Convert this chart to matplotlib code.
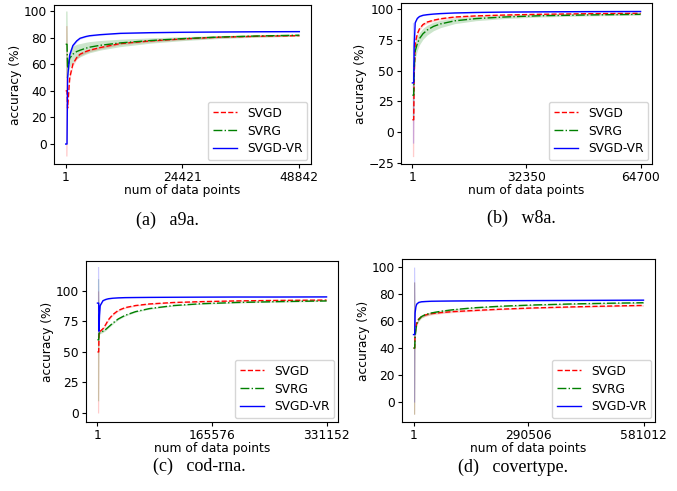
import matplotlib
matplotlib.use('Agg')
import matplotlib.pyplot as plt
import numpy as np

# ---- data (mean accuracy and its spread) ----
# (a) a9a
a9a_n = 48842
a9a_x = [1, 280, 400, 850, 1500, 2300, 3000, 4200, 5000, 7200, 11400, 17700, 24400, 32000, 40000, 48842]
a9a_svgd = [40, 40, 27, 50, 60, 65, 67.5, 69.5, 70.5, 72.5, 75.5, 77.5, 79, 80.3, 81, 81.5]
a9a_svgd_std = [49, 49, 2, 1.8, 1.5, 1.3, 1.2, 1.1, 1, 1, 0.9, 0.8, 0.7, 0.6, 0.5, 0.5]
a9a_svrg = [75, 75, 57, 64.5, 67.5, 69.5, 70.5, 72, 72.8, 74.2, 76, 77.8, 79.2, 80.4, 81.2, 81.8]
a9a_svrg_std = [25, 25, 8, 6.5, 6, 5.5, 5, 4.5, 4.2, 3.6, 2.8, 2, 1.5, 1.1, 0.9, 0.8]
a9a_vr = [0, 0, 50, 67, 74, 77.5, 79.5, 80.8, 81.4, 82.2, 83.2, 83.7, 84, 84.2, 84.4, 84.5]
a9a_vr_std = [0, 0, 2, 1.5, 1, 0.8, 0.6, 0.5, 0.5, 0.4, 0.4, 0.3, 0.3, 0.3, 0.3, 0.3]

# (b) w8a
w8a_n = 64700
w8a_x = [1, 370, 500, 800, 1400, 2000, 3000, 4200, 6000, 8000, 12000, 18000, 26000, 36000, 50000, 64700]
w8a_svgd = [10, 10, 45, 72, 80, 84, 87.5, 89.5, 91, 92.2, 93.6, 94.5, 95.2, 95.8, 96.3, 96.6]
w8a_svgd_std = [30, 30, 2, 1.5, 1.3, 1.2, 1, 1, 0.9, 0.8, 0.7, 0.6, 0.5, 0.5, 0.4, 0.4]
w8a_svrg = [30, 30, 52, 66, 72, 76, 80, 83, 86, 88, 90.5, 92.3, 93.6, 94.6, 95.3, 95.8]
w8a_svrg_std = [20, 20, 8, 6, 5.5, 5, 4.5, 4, 3.5, 3, 2.3, 1.7, 1.3, 1, 0.8, 0.7]
w8a_vr = [40, 40, 70, 89, 92.5, 94, 95, 95.5, 96, 96.4, 96.9, 97.3, 97.6, 97.8, 98, 98.1]
w8a_vr_std = [49, 49, 1, 0.6, 0.5, 0.4, 0.4, 0.3, 0.3, 0.3, 0.3, 0.3, 0.3, 0.3, 0.3, 0.3]

# (c) cod-rna
cod_n = 331152
cod_x = [1, 1800, 2300, 3000, 4000, 8000, 12000, 16000, 22000, 30000, 40000, 55000, 75000, 110000, 150000, 200000, 260000, 331152]
cod_svgd = [50, 50, 66, 66.5, 67, 69, 72.5, 76.5, 80.5, 84, 86.3, 88, 89.3, 90.5, 91.2, 91.8, 92.2, 92.5]
cod_svgd_std = [50, 50, 1.5, 1.2, 1, 1, 1, 0.9, 0.8, 0.7, 0.6, 0.5, 0.5, 0.4, 0.4, 0.4, 0.4, 0.4]
cod_svrg = [60, 60, 65, 65.5, 66, 67, 68.5, 70.5, 73.5, 77, 80, 83, 85.5, 88, 89.5, 90.5, 91.2, 91.8]
cod_svrg_std = [50, 50, 1.5, 1.2, 1, 1, 1, 0.9, 0.8, 0.7, 0.6, 0.5, 0.5, 0.4, 0.4, 0.4, 0.4, 0.4]
cod_vr = [90, 90, 67, 80, 88, 92, 93, 93.6, 94, 94.3, 94.5, 94.6, 94.7, 94.8, 94.9, 95, 95, 95.1]
cod_vr_std = [30, 30, 1, 0.8, 0.6, 0.5, 0.4, 0.4, 0.3, 0.3, 0.3, 0.3, 0.3, 0.3, 0.3, 0.3, 0.3, 0.3]

# (d) covertype
cov_n = 581012
cov_x = [1, 3000, 4000, 6000, 8000, 13000, 20000, 30000, 45000, 70000, 100000, 150000, 220000, 300000, 400000, 490000, 581012]
cov_svgd = [40, 40, 50, 55, 58.5, 61.5, 63.3, 64.5, 65.5, 66.3, 67, 67.8, 68.8, 69.7, 70.5, 71.1, 71.6]
cov_svgd_std = [49, 49, 2, 1.5, 1.3, 1.2, 1, 1, 0.9, 0.8, 0.7, 0.6, 0.5, 0.5, 0.5, 0.5, 0.5]
cov_svrg = [40, 40, 48, 53.5, 57.5, 61, 63.3, 64.8, 66, 67.3, 68.4, 69.8, 71, 71.9, 72.7, 73.2, 73.6]
cov_svrg_std = [49, 49, 2, 1.5, 1.3, 1.2, 1, 1, 0.9, 0.8, 0.7, 0.6, 0.5, 0.5, 0.5, 0.5, 0.5]
cov_vr = [50, 50, 66, 70.5, 72.5, 73.8, 74.3, 74.5, 74.7, 74.8, 74.9, 75, 75.1, 75.2, 75.3, 75.4, 75.5]
cov_vr_std = [50, 50, 0.8, 0.6, 0.5, 0.4, 0.4, 0.3, 0.3, 0.3, 0.3, 0.3, 0.3, 0.3, 0.3, 0.3, 0.3]

captions = ['(a)   a9a.', '(b)   w8a.', '(c)   cod-rna.', '(d)   covertype.']

panels = [
    (a9a_n, a9a_x, [(a9a_svgd, a9a_svgd_std), (a9a_svrg, a9a_svrg_std), (a9a_vr, a9a_vr_std)]),
    (w8a_n, w8a_x, [(w8a_svgd, w8a_svgd_std), (w8a_svrg, w8a_svrg_std), (w8a_vr, w8a_vr_std)]),
    (cod_n, cod_x, [(cod_svgd, cod_svgd_std), (cod_svrg, cod_svrg_std), (cod_vr, cod_vr_std)]),
    (cov_n, cov_x, [(cov_svgd, cov_svgd_std), (cov_svrg, cov_svrg_std), (cov_vr, cov_vr_std)]),
]

# ---- layout (pixels: left, right, top, bottom) ----
W, H = 677, 491
boxes = [(54, 311, 5, 164), (401, 652, 3, 164), (86, 338, 261, 422), (402, 655, 259, 422)]
ylims = [(-15, 104.5), (-26, 105), (-7.4, 124.5), (-14.8, 106)]
yticks = [[0, 20, 40, 60, 80, 100], [-25, 0, 25, 50, 75, 100], [0, 25, 50, 75, 100], [0, 20, 40, 60, 80, 100]]
cap_pos = [(167, 220), (521, 218), (199, 466), (513, 467)]

names = ['SVGD', 'SVRG', 'SVGD-VR']
colors = ['red', 'green', 'blue']
styles = ['--', '-.', '-']

fs = 8.8
fig = plt.figure(figsize=(W / 100, H / 100), dpi=100)

for k, (n, xs, series) in enumerate(panels):
    l, r, t, b = boxes[k]
    ax = fig.add_axes([l / W, 1 - b / H, (r - l) / W, (b - t) / H])
    xs = np.array(xs, dtype=float)
    for (m, s), name, c, ls in zip(series, names, colors, styles):
        m = np.array(m)
        s = np.array(s)
        ax.plot(xs, m, ls, color=c, lw=1.0, label=name)
        ax.fill_between(xs, m - s, m + s, color=c, alpha=0.2, lw=0)
    ax.set_xticks([1, n // 2, n])
    ax.set_xticklabels(['1', str(n // 2), str(n)])
    ax.set_yticks(yticks[k])
    ax.set_ylim(*ylims[k])
    ax.set_xlim(1 - 0.05 * (n - 1), n + 0.05 * (n - 1))
    ax.tick_params(labelsize=fs, length=3, pad=2)
    ax.set_xlabel('num of data points', fontsize=fs, labelpad=0)
    ax.set_ylabel('accuracy (%)', fontsize=fs, labelpad=1)
    ax.legend(loc='lower right', fontsize=fs, borderaxespad=0.3, labelspacing=0.4)
    fig.text(cap_pos[k][0] / W, 1 - cap_pos[k][1] / H, captions[k],
             family='Liberation Serif', fontsize=13, ha='center', va='center')

fig.savefig('out.png', dpi=100)
